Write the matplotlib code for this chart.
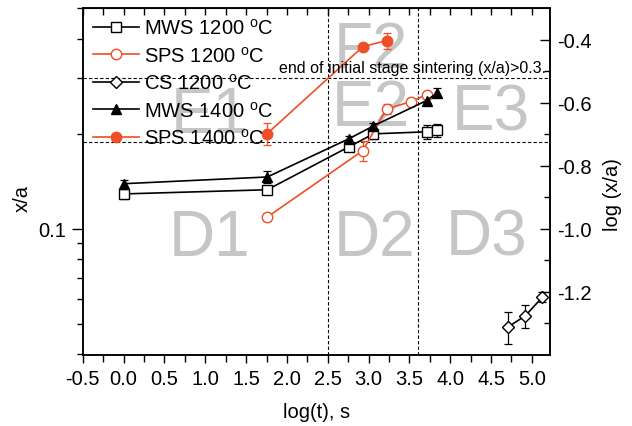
import numpy as np
import matplotlib
matplotlib.use("Agg")
import matplotlib.pyplot as plt
from matplotlib.lines import Line2D
from matplotlib.ticker import LogLocator, NullFormatter, FixedLocator, MultipleLocator

plt.rcParams['font.family'] = ['Liberation Sans', 'DejaVu Sans']
plt.rcParams['mathtext.fontset'] = 'custom'
plt.rcParams['mathtext.rm'] = 'Liberation Sans'
plt.rcParams['axes.unicode_minus'] = False

# data: log(t) and x/a
mws1200_t = [0.0, 1.76, 2.76, 3.06, 3.71, 3.84]
mws1200_y = [0.129, 0.133, 0.182, 0.200, 0.203, 0.205]
mws1200_e = [0.005, 0.003, 0.006, 0.008, 0.010, 0.010]

sps1200_t = [1.76, 2.93, 3.22, 3.52, 3.71]
sps1200_y = [0.109, 0.177, 0.240, 0.253, 0.266]
sps1200_e = [0.003, 0.013, 0.008, 0.006, 0.006]

cs1200_t = [4.71, 4.92, 5.13]
cs1200_y = [0.0489, 0.053, 0.0608]
cs1200_e = [0.0057, 0.0045, 0.0022]

mws1400_t = [0.0, 1.76, 2.76, 3.06, 3.71, 3.84]
mws1400_y = [0.139, 0.146, 0.193, 0.212, 0.255, 0.270]
mws1400_e = [0.004, 0.006, 0.004, 0.004, 0.005, 0.009]

sps1400_t = [1.76, 2.93, 3.22]
sps1400_y = [0.2005, 0.378, 0.395]
sps1400_e = [0.016, 0.004, 0.023]

labels = ['MWS 1200 $^{\\rm o}$C', 'SPS 1200 $^{\\rm o}$C', 'CS 1200 $^{\\rm o}$C',
          'MWS 1400 $^{\\rm o}$C', 'SPS 1400 $^{\\rm o}$C']

# region labels
reg_names = ['D1', 'D2', 'D3', 'E1', 'E2', 'E3', 'F2']
reg_x = [1.05, 3.07, 4.44, 1.05, 3.03, 4.50, 3.03]
reg_y = [0.0827, 0.0827, 0.0827, 0.202, 0.214, 0.207, 0.327]

red = '#ef4e26'
gray = '#c6c6c6'

fig = plt.figure(figsize=(6.32, 4.27), dpi=100)
ax = fig.add_axes([0.131, 0.1663, 0.739, 0.8126])

for name, xx, yy in zip(reg_names, reg_x, reg_y):
    ax.text(xx, yy, name, color=gray, fontsize=46, ha='center', va='baseline', zorder=1)

# stage boundaries
ax.axvline(2.5, color='k', ls='--', lw=0.8, dashes=(3, 2), zorder=2)
ax.axvline(3.6, color='k', ls='--', lw=0.8, dashes=(3, 2), zorder=2)
ax.axhline(0.3, color='k', ls='--', lw=0.8, dashes=(3, 2), zorder=2)
ax.axhline(0.189, color='k', ls='--', lw=0.8, dashes=(3, 2), zorder=2)
ax.text(5.18, 0.315, 'end of initial stage sintering (x/a)>0.3.', fontsize=11.5,
        ha='right', va='baseline', zorder=6)

series = [
    (mws1200_t, mws1200_y, mws1200_e, 'k', 's', 'white', 7.5),
    (sps1200_t, sps1200_y, sps1200_e, red, 'o', 'white', 7.5),
    (cs1200_t, cs1200_y, cs1200_e, 'k', 'D', 'white', 6.5),
    (mws1400_t, mws1400_y, mws1400_e, 'k', '^', 'k', 7.5),
    (sps1400_t, sps1400_y, sps1400_e, red, 'o', red, 7.5),
]
handles = []
for (t, y, e, c, m, fc, ms), lab in zip(series, labels):
    ax.errorbar(t, y, yerr=e, color=c, marker=m, mfc=fc, ms=ms, lw=1.2,
                capsize=3, elinewidth=0.9, capthick=0.9, zorder=4)
    handles.append(Line2D([], [], color=c, marker=m, mfc=fc, ms=ms, lw=1.2, label=lab))

ax.set_yscale('log')
ax.set_xlim(-0.5, 5.22)
ax.set_ylim(10 ** -1.4, 10 ** -0.3)
ax.xaxis.set_major_locator(MultipleLocator(0.5))
ax.xaxis.set_minor_locator(MultipleLocator(0.25))
ax.yaxis.set_major_locator(FixedLocator([0.1]))
ax.yaxis.set_major_formatter(matplotlib.ticker.FixedFormatter(['0.1']))
ax.yaxis.set_minor_locator(LogLocator(base=10, subs=np.arange(2, 10)))
ax.yaxis.set_minor_formatter(NullFormatter())
ax.tick_params(axis='x', which='both', direction='out', length=6, width=1, labelsize=14.5, pad=4)
ax.tick_params(axis='y', which='major', direction='out', length=8, width=1, labelsize=14.5, pad=4)
ax.tick_params(axis='y', which='minor', direction='out', length=4, width=1)
ax.tick_params(axis='x', which='minor', length=5)
ax.set_xlabel('log(t), s', fontsize=14.5)
ax.set_ylabel('x/a', fontsize=14.5)
ax.xaxis.set_label_coords(0.5, -0.135)
ax.yaxis.set_label_coords(-0.109, 0.455)
for s in ax.spines.values():
    s.set_linewidth(1.1)

top = ax.secondary_xaxis('top')
top.set_xticks(np.arange(-0.5, 5.3, 0.25))
top.tick_params(direction='in', length=5, width=1, labeltop=False)

ax2 = ax.twinx()
ax2.set_ylim(-1.4, -0.3)
ax2.yaxis.set_major_locator(FixedLocator([-1.2, -1.0, -0.8, -0.6, -0.4]))
ax2.yaxis.set_minor_locator(FixedLocator([-1.3, -1.1, -0.9, -0.7, -0.5]))
ax2.yaxis.set_major_formatter(matplotlib.ticker.FormatStrFormatter('%.1f'))
ax2.tick_params(which='major', direction='in', length=7, width=1, labelsize=14.5, pad=5)
ax2.tick_params(which='minor', direction='in', length=4, width=1)
ax2.set_ylabel('log (x/a)', fontsize=14.5)
ax2.yaxis.set_label_coords(1.113, 0.464)
for s in ax2.spines.values():
    s.set_linewidth(1.1)

leg = ax.legend(handles=handles, loc='upper left', bbox_to_anchor=(0.0, 1.0), frameon=False,
                fontsize=14.5, handlelength=2.3, handletextpad=0.25, labelspacing=0.37,
                borderaxespad=0.3, borderpad=0.2)
leg.set_zorder(7)

fig.savefig('out.png', dpi=100)
